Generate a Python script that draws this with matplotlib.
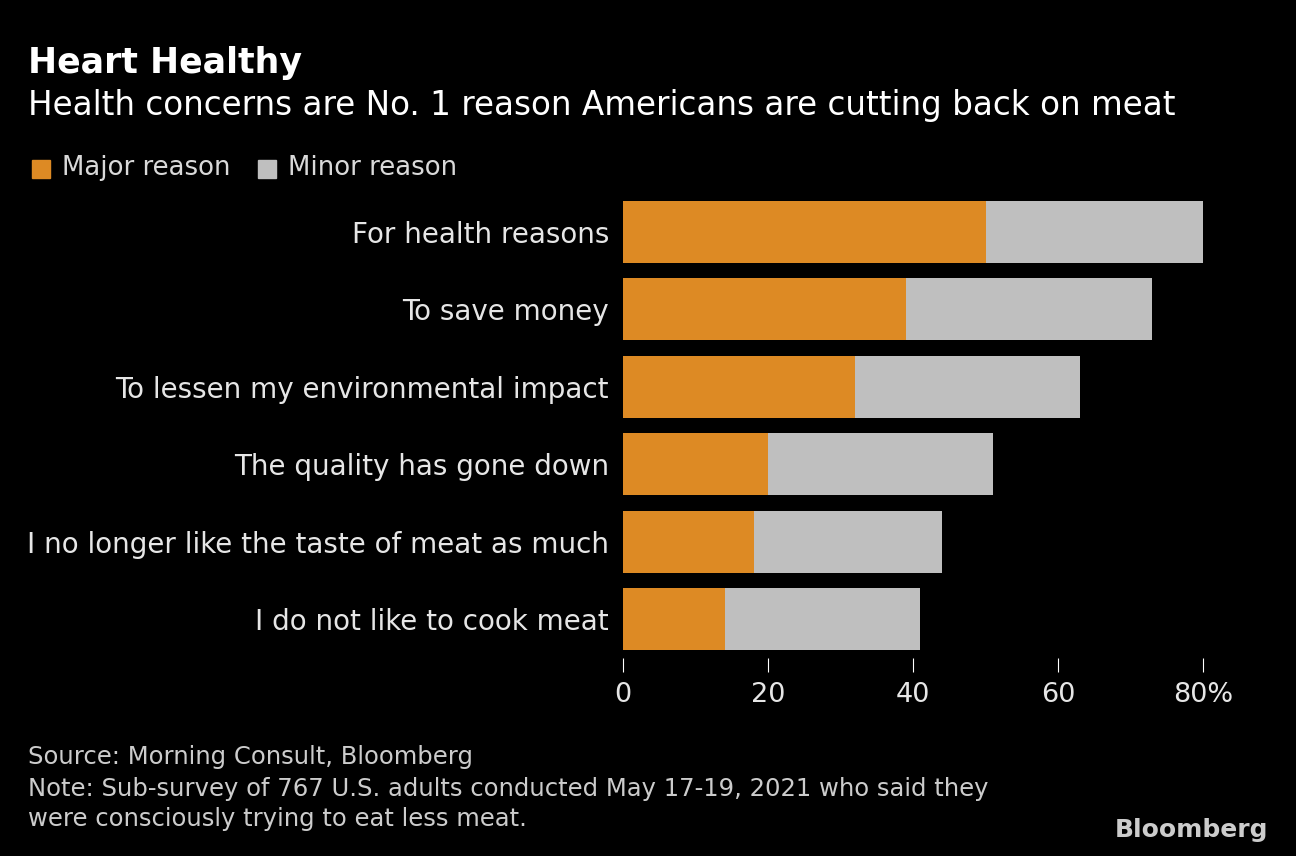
import matplotlib.pyplot as plt

categories = ["For health reasons", "To save money", "To lessen my environmental impact",
              "The quality has gone down", "I no longer like the taste of meat as much",
              "I do not like to cook meat"]
major = [50, 39, 32, 20, 18, 14]
minor = [30, 34, 31, 31, 26, 27]
ticks = [0, 20, 40, 60, 80]
tick_labels = ["0", "20", "40", "60", "80%"]

plt.rcParams['font.family'] = ['DejaVu Sans']
fig = plt.figure(figsize=(12.96, 8.56), dpi=100, facecolor="black")
W, H = 1296, 856
x0, x1 = 623, 623 + 85 * 7.25
ytop, ybot = 193, 658
ax = fig.add_axes([x0 / W, 1 - ybot / H, (x1 - x0) / W, (ybot - ytop) / H])
ax.set_facecolor("black")

y = list(range(len(categories)))
ax.barh(y, major, height=0.8, color="#dd8a24")
ax.barh(y, minor, left=major, height=0.8, color="#bfbfbf")
ax.set_xlim(0, 85)
ax.set_ylim(len(categories) - 0.5, -0.5)
ax.set_yticks(y)
ax.set_yticklabels(categories, color="#e6e6e6", fontsize=20)
ax.set_xticks(ticks)
ax.set_xticklabels(tick_labels, color="#e6e6e6", fontsize=19.5)
ax.tick_params(axis="y", length=0, pad=10)
ax.tick_params(axis="x", direction="out", length=10, color="white", pad=7)
for s in ax.spines.values():
    s.set_visible(False)

fig.text(28 / W, 1 - 63 / H, "Heart Healthy", color="white", fontsize=25, weight="bold", va="center")
fig.text(28 / W, 1 - 105 / H, "Health concerns are No. 1 reason Americans are cutting back on meat",
         color="white", fontsize=23.5, va="center")
fig.patches.append(plt.Rectangle((32 / W, 1 - 178 / H), 18 / W, 18 / H, color="#dd8a24",
                                 transform=fig.transFigure))
fig.text(62 / W, 1 - 168 / H, "Major reason", color="#d9d9d9", fontsize=18.7, va="center")
fig.patches.append(plt.Rectangle((258 / W, 1 - 178 / H), 18 / W, 18 / H, color="#bfbfbf",
                                 transform=fig.transFigure))
fig.text(288 / W, 1 - 168 / H, "Minor reason", color="#d9d9d9", fontsize=18.7, va="center")

fig.text(28 / W, 1 - 757 / H, "Source: Morning Consult, Bloomberg", color="#cccccc", fontsize=17.5, va="center")
fig.text(28 / W, 1 - 789 / H, "Note: Sub-survey of 767 U.S. adults conducted May 17-19, 2021 who said they",
         color="#cccccc", fontsize=17.5, va="center")
fig.text(28 / W, 1 - 819 / H, "were consciously trying to eat less meat.", color="#cccccc", fontsize=17.5, va="center")
fig.text(1268 / W, 1 - 830 / H, "Bloomberg", color="#cccccc", fontsize=18, weight="bold", ha="right", va="center")

fig.savefig("out.png", dpi=100, facecolor="black")
